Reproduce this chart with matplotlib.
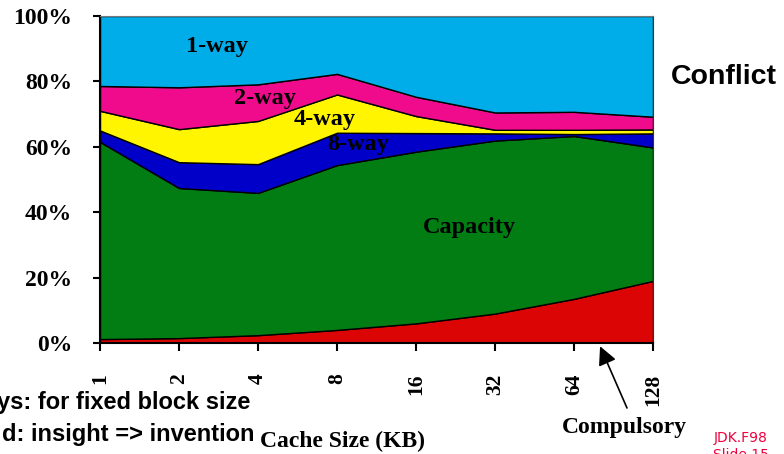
import numpy as np
import matplotlib
matplotlib.use("Agg")
import matplotlib.pyplot as plt

# ==== Data (cumulative tops, in %) ====
cache_sizes = ["1", "2", "4", "8", "16", "32", "64", "128"]
compulsory_top = [1.2, 1.5, 2.4, 4.0, 6.0, 9.0, 13.5, 19.0]
capacity_top = [61.5, 47.4, 45.9, 54.4, 58.5, 61.9, 63.3, 59.8]
way8_top = [65.0, 55.3, 54.7, 64.3, 64.2, 64.1, 63.9, 64.1]
way4_top = [71.0, 65.4, 67.9, 76.0, 69.4, 65.2, 65.2, 65.3]
way2_top = [78.6, 78.2, 79.1, 82.3, 75.3, 70.5, 70.7, 69.2]
way1_top = [100, 100, 100, 100, 100, 100, 100, 100]

# band values (stack layers)
compulsory = np.array(compulsory_top)
capacity = np.array(capacity_top) - np.array(compulsory_top)
way8 = np.array(way8_top) - np.array(capacity_top)
way4 = np.array(way4_top) - np.array(way8_top)
way2 = np.array(way2_top) - np.array(way4_top)
way1 = np.array(way1_top) - np.array(way2_top)

colors = ["#DC0505", "#017D14", "#0000C8", "#FFF500", "#F00A8C", "#00ADE8"]

serif = "Liberation Serif"
sans = "Liberation Sans"

fig = plt.figure(figsize=(7.84, 4.54), dpi=100)
ax = fig.add_axes([100 / 784, 1 - 343 / 454, 553 / 784, 327 / 454])

x = np.arange(len(cache_sizes))
ax.stackplot(x, compulsory, capacity, way8, way4, way2, way1,
             colors=colors, edgecolor="black", linewidth=1.0)

ax.set_xlim(0, len(cache_sizes) - 1)
ax.set_ylim(0, 100)
ax.set_xticks(x)
ax.set_xticklabels(cache_sizes, rotation=90, fontfamily=serif,
                   fontweight="bold", fontsize=15.5)
ax.set_yticks([0, 20, 40, 60, 80, 100])
ax.set_yticklabels(["0%", "20%", "40%", "60%", "80%", "100%"],
                   fontfamily=serif, fontweight="bold", fontsize=17)
ax.tick_params(axis="y", length=5, width=1.5, pad=15)
ax.tick_params(axis="x", length=6, width=1.5, pad=16)
ax.spines["left"].set_linewidth(1.5)
ax.spines["bottom"].set_linewidth(1.5)
ax.spines["top"].set_color("#777777")
ax.spines["right"].set_color("#333333")

# ==== Labels inside the plot ====
lab = dict(fontfamily=serif, fontweight="bold", fontsize=17.5,
           ha="center", va="center")
ax.text(1.48, 90.8, "1-way", **lab)
ax.text(2.09, 74.9, "2-way", **lab)
ax.text(2.84, 68.5, "4-way", **lab)
ax.text(3.27, 60.6, "8-way", **lab)
ax.text(4.67, 35.2, "Capacity", **lab)

fig.text(724 / 784, 1 - 77 / 454, "Conflict", fontfamily=sans,
         fontweight="bold", fontsize=20.5, ha="center", va="center")

# arrow pointing at the compulsory band
ax.annotate("", xy=(6.33, -1), xycoords="data",
            xytext=(627 / 784, 1 - 408 / 454), textcoords="figure fraction",
            annotation_clip=False,
            arrowprops=dict(arrowstyle="-|>", color="black", lw=1.2,
                            mutation_scale=28, shrinkA=0, shrinkB=0))
fig.text(624 / 784, 1 - 428 / 454, "Compulsory", fontfamily=serif,
         fontweight="bold", fontsize=17, ha="center", va="center")

fig.text(342 / 784, 1 - 441 / 454, "Cache Size (KB)", fontfamily=serif,
         fontweight="bold", fontsize=17, ha="center", va="center")

fig.text(250 / 784, 1 - 403 / 454, "ys: for fixed block size",
         fontfamily=sans, fontweight="bold", fontsize=17,
         ha="right", va="center")
fig.text(255 / 784, 1 - 434 / 454, "d: insight => invention",
         fontfamily=sans, fontweight="bold", fontsize=17,
         ha="right", va="center")

fig.text(741 / 784, 1 - 438 / 454, "JDK.F98", color="#F0003C",
         fontfamily="DejaVu Sans", fontsize=10, ha="center", va="center")
fig.text(741 / 784, 1 - 448 / 454, "Slide 15", color="#F0003C",
         fontfamily="DejaVu Sans", fontsize=10, ha="center", va="top")

fig.savefig("out.png", dpi=100)
